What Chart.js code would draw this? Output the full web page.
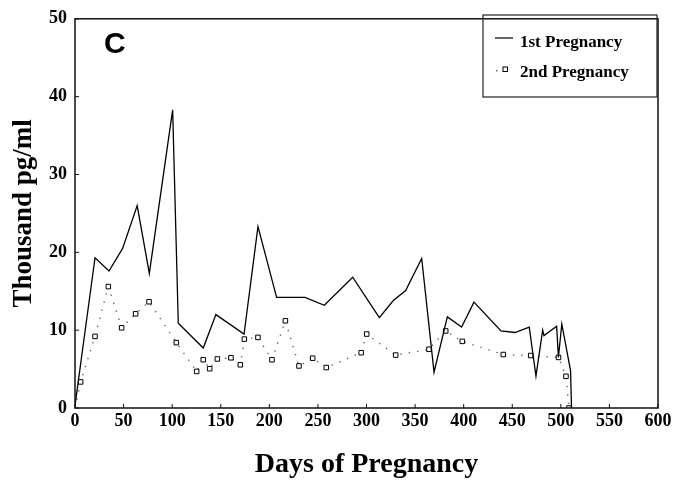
<!DOCTYPE html>
<html>
<head>
<meta charset="utf-8">
<script src="https://cdn.jsdelivr.net/npm/chart.js@4/dist/chart.umd.min.js"></script>
<style>
  html, body { margin: 0; padding: 0; background: #fff; }
  #wrap { width: 675px; height: 484px; }
</style>
</head>
<body>
<div id="wrap"><canvas id="chart"></canvas></div>
<script>
const daysFirst = [0, 20.6, 35, 49, 64, 76.5, 100.5, 106.3, 132, 145, 174, 188.3, 207.5, 236.7, 256.6, 285.8, 313.2, 327.6, 340.3, 356.8, 369.5, 383.2, 397.9, 410.6, 438.4, 452.8, 467.5, 474.4, 481.3, 482.7, 495.7, 497.5, 501, 510, 511];
const valuesFirst = [0.3, 19.3, 17.6, 20.5, 26, 17.3, 38.3, 10.9, 7.7, 12, 9.5, 23.3, 14.2, 14.2, 13.2, 16.8, 11.6, 13.8, 15.1, 19.2, 4.6, 11.7, 10.4, 13.6, 9.9, 9.7, 10.4, 4.1, 10.0, 9.3, 10.5, 6.5, 10.8, 4.8, 0];

const daysSecond = [0, 5.8, 20.6, 34.3, 48, 62.4, 76.2, 104.3, 125.2, 132, 138.6, 146.5, 160.5, 170.1, 174.3, 188.3, 202.7, 216.5, 230.5, 244.6, 258.6, 294.5, 300.2, 330, 364.3, 381.5, 398.6, 440.8, 469, 497.6, 505.3, 508.4];
const valuesSecond = [0, 3.35, 9.2, 15.6, 10.3, 12.1, 13.65, 8.4, 4.7, 6.2, 5.05, 6.3, 6.45, 5.55, 8.85, 9.07, 6.2, 11.2, 5.4, 6.4, 5.2, 7.1, 9.5, 6.8, 7.55, 9.9, 8.56, 6.87, 6.74, 6.5, 4.07, 0];

const xTicks = [0, 50, 100, 150, 200, 250, 300, 350, 400, 450, 500, 550, 600];
const yTicks = [0, 10, 20, 30, 40, 50];

const seriesNames = ['1st Pregnancy', '2nd Pregnancy'];

const serif = '"Liberation Serif", "Times New Roman", serif';

function toPoints(xs, ys) {
    return xs.map((x, i) => ({ x: x, y: ys[i] }));
}

// box round the plot, ticks pointing inward, panel letter and legend
const framePlugin = {
    id: 'frame',
    afterDraw(chart) {
        const ctx = chart.ctx;
        const a = chart.chartArea;
        const xs = chart.scales.x;
        const ys = chart.scales.y;
        ctx.save();
        ctx.strokeStyle = '#111';
        ctx.lineWidth = 1.5;
        ctx.strokeRect(a.left, a.top, a.right - a.left, a.bottom - a.top);

        ctx.lineWidth = 1;
        ctx.beginPath();
        xTicks.forEach(v => {
            const px = xs.getPixelForValue(v);
            ctx.moveTo(px, a.bottom);
            ctx.lineTo(px, a.bottom - 4);
        });
        yTicks.forEach(v => {
            const py = ys.getPixelForValue(v);
            ctx.moveTo(a.left, py);
            ctx.lineTo(a.left + 4, py);
        });
        ctx.stroke();

        ctx.fillStyle = '#000';
        ctx.font = 'bold 30px "Liberation Sans", Arial, sans-serif';
        ctx.textBaseline = 'middle';
        ctx.textAlign = 'left';
        ctx.fillText('C', 104, 45);

        // legend box
        ctx.lineWidth = 1.2;
        ctx.strokeStyle = '#222';
        ctx.strokeRect(483, 15, 174, 82);

        ctx.font = 'bold 17px ' + serif;
        ctx.fillText(chart.data.datasets[0].label, 520, 43);
        ctx.fillText(chart.data.datasets[1].label, 520, 73);

        ctx.lineWidth = 1.2;
        ctx.strokeStyle = '#000';
        ctx.beginPath();
        ctx.moveTo(495, 38);
        ctx.lineTo(513, 38);
        ctx.stroke();

        ctx.fillStyle = '#555';
        ctx.fillRect(496, 70, 1.4, 1.4);
        ctx.fillStyle = '#fff';
        ctx.strokeStyle = '#000';
        ctx.lineWidth = 1;
        ctx.fillRect(503, 67, 4.5, 4.5);
        ctx.strokeRect(503, 67, 4.5, 4.5);
        ctx.restore();
    }
};

new Chart(document.getElementById('chart'), {
    type: 'line',
    data: {
        datasets: [
            {
                label: seriesNames[0],
                data: toPoints(daysFirst, valuesFirst),
                borderColor: '#000',
                borderWidth: 1.3,
                pointRadius: 0,
                tension: 0
            },
            {
                label: seriesNames[1],
                data: toPoints(daysSecond, valuesSecond),
                borderColor: '#666',
                borderWidth: 1.4,
                borderDash: [1.4, 7],
                pointStyle: 'rect',
                pointRadius: c => (c.dataIndex === 0 ? 0 : 3.2),
                pointBackgroundColor: '#fff',
                pointBorderColor: '#000',
                pointBorderWidth: 1,
                tension: 0
            }
        ]
    },
    options: {
        responsive: true,
        maintainAspectRatio: false,
        animation: false,
        layout: { padding: { top: 15, right: 17, left: 0, bottom: 0 } },
        plugins: {
            legend: { display: false },
            tooltip: { enabled: false }
        },
        scales: {
            x: {
                type: 'linear',
                min: 0,
                max: 600,
                afterBuildTicks: s => { s.ticks = xTicks.map(v => ({ value: v })); },
                afterFit: s => { s.height = 76; },
                grid: { display: false, drawTicks: false },
                border: { display: false },
                ticks: {
                    color: '#000',
                    padding: 3,
                    maxRotation: 0,
                    autoSkip: false,
                    font: { family: serif, size: 18, weight: 'bold' }
                },
                title: {
                    display: true,
                    text: 'Days of Pregnancy',
                    color: '#000',
                    padding: { bottom: 2 },
                    font: { family: serif, size: 28, weight: 'bold' }
                }
            },
            y: {
                min: 0,
                max: 50,
                afterBuildTicks: s => { s.ticks = yTicks.map(v => ({ value: v })); },
                afterFit: s => { s.width = 75; },
                grid: { display: false, drawTicks: false },
                border: { display: false },
                ticks: {
                    color: '#000',
                    padding: 8,
                    font: { family: serif, size: 18, weight: 'bold' }
                },
                title: {
                    display: true,
                    text: 'Thousand pg/ml',
                    color: '#000',
                    padding: { top: 8 },
                    font: { family: serif, size: 27, weight: 'bold' }
                }
            }
        }
    },
    plugins: [framePlugin]
});
</script>
</body>
</html>
